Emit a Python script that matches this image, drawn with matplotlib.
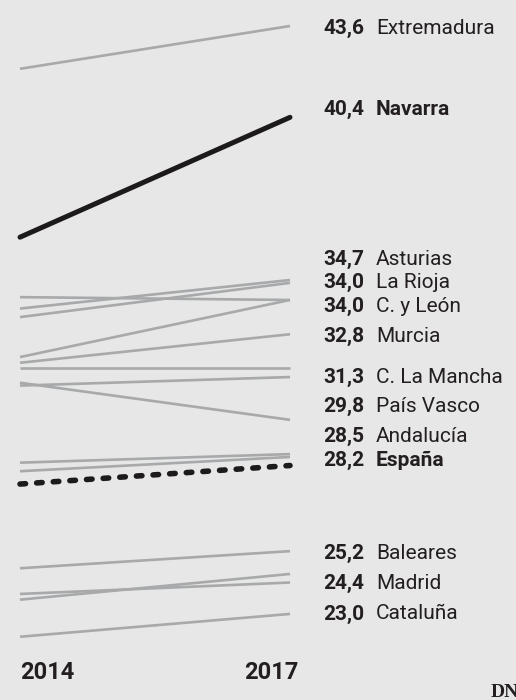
import matplotlib
matplotlib.use("Agg")
import matplotlib.pyplot as plt

# ---------------- data ----------------
years = [2014, 2017]
regions = ["Extremadura", "Navarra", "Asturias", "La Rioja", "C. y León", "Murcia",
           "C. La Mancha", "País Vasco", "Andalucía", "España", "Baleares", "Madrid", "Cataluña"]
values_2014 = [42.1, 36.2, 33.7, 34.1, 32.0, 31.8, 31.0, 31.1, 28.0, 27.55, 24.6, 23.5, 22.2]
values_2017 = [43.6, 40.4, 34.7, 34.0, 34.0, 32.8, 31.3, 29.8, 28.5, 28.2, 25.2, 24.4, 23.0]
# regions drawn without label
unlabeled_2014 = [33.4, 31.6, 28.3, 23.7]
unlabeled_2017 = [34.6, 31.6, 28.6, 24.1]

highlight = "Navarra"
average = "España"

# ---------------- style / layout ----------------
bg = "#e6e7e6"
gray = "#a8a9ab"
dark = "#1c1a1b"
txt = "#231f20"
# label centre shift from line end (px, down positive) to avoid overlaps
label_shift_px = [0.2, -9.3, -22.7, -19.4, 4.6, 0.6, -1.2, -15.6, -22.1, -7.2, 0.9, 8.1, -1.8]
CAP_HALF = 7.3

fig = plt.figure(figsize=(5.16, 7.0), dpi=100, facecolor=bg)
ax = fig.add_axes([0, 0, 1, 1])
ax.set_facecolor(bg)
ax.axis("off")
PX_PER_YEAR = 90.0
PX_PER_UNIT = 28.54
ax.set_xlim(2014 - 20 / PX_PER_YEAR, 2014 + 496 / PX_PER_YEAR)
ax.set_ylim(43.6 - 674 / PX_PER_UNIT, 43.6 + 26 / PX_PER_UNIT)

# unlabeled gray lines
for a, b in zip(unlabeled_2014, unlabeled_2017):
    ax.plot(years, [a, b], color=gray, lw=1.9, solid_capstyle="butt", zorder=2)

# labeled lines
for name, a, b in zip(regions, values_2014, values_2017):
    if name == highlight:
        ax.plot(years, [a, b], color=dark, lw=3.6, solid_capstyle="round", zorder=5)
    elif name == average:
        ax.plot(years, [a, b], color=dark, lw=4.0, dash_capstyle="round",
                dashes=(1.0, 2.0), zorder=4)
    else:
        ax.plot(years, [a, b], color=gray, lw=1.9, solid_capstyle="butt", zorder=3)

# labels
for name, b, sh in zip(regions, values_2017, label_shift_px):
    dy = -(sh + CAP_HALF)
    bold_name = name in (highlight, average)
    ax.annotate(f"{b:.1f}".replace(".", ","), xy=(2017, b), xytext=(33, dy),
                textcoords="offset pixels", ha="left", va="baseline",
                fontsize=15, fontweight="bold", family="Roboto", color=txt)
    ax.annotate(name, xy=(2017, b), xytext=(86, dy),
                textcoords="offset pixels", ha="left", va="baseline",
                fontsize=15, fontweight="bold" if bold_name else "normal",
                family="Roboto", color=txt)

# year labels
W, H = 516, 700
fig.text(20 / W, 1 - 679.3 / H, str(years[0]), ha="left", va="baseline",
         fontsize=17, fontweight="bold", family="Roboto", color=txt)
fig.text(298.5 / W, 1 - 679.3 / H, str(years[1]), ha="right", va="baseline",
         fontsize=17, fontweight="bold", family="Roboto", color=txt)

# source mark
fig.text(491 / W, 1 - 697 / H, "DN", ha="left", va="baseline",
         fontsize=14, fontweight="bold", family="Liberation Serif", color=txt)

fig.savefig("out.png", dpi=100, facecolor=bg)
